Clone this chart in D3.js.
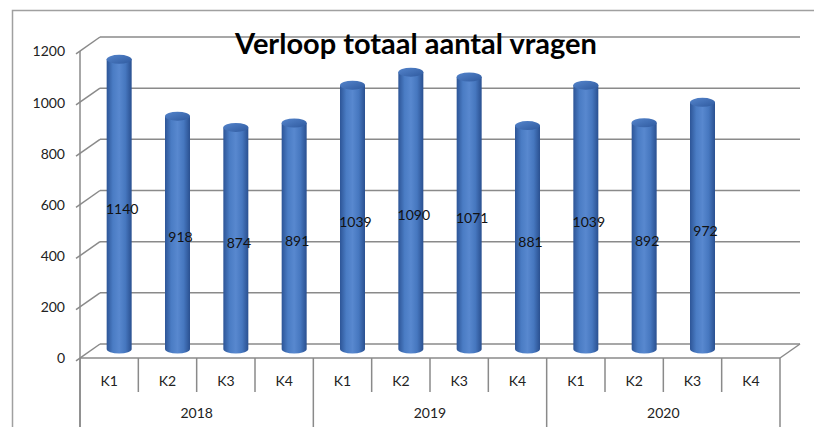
<!DOCTYPE html>
<html><head><meta charset="utf-8">
<script src="https://cdn.jsdelivr.net/npm/d3@7"></script>
<style>body{margin:0;background:#fff}svg{display:block}text{font-family:Lato,"Open Sans",sans-serif}</style>
</head><body>
<script>
const title = "Verloop totaal aantal vragen";
const years = ["2018", "2019", "2020"];
const quarters = ["K1", "K2", "K3", "K4"];
const values = [1140, 918, 874, 891, 1039, 1090, 1071, 881, 1039, 892, 972, null];
const yTicks = [0, 200, 400, 600, 800, 1000, 1200];

const W = 814, H = 427;
const svg = d3.select("body").append("svg").attr("width", W).attr("height", H);
const cats = d3.range(years.length * quarters.length);
const x = d3.scaleBand().domain(cats).range([80, 780]).paddingInner(0).paddingOuter(0);
const y = d3.scaleLinear().domain([0, 1200]).range([358, 51]);
const DX = 20, DY = -14;
const grid = "#8a8a8a";

const defs = svg.append("defs");
const g1 = defs.append("linearGradient").attr("id", "cyl").attr("x1", "0").attr("x2", "1").attr("y1", "0").attr("y2", "0");
[[0, "#2d5597"], [0.25, "#4a7cc4"], [0.5, "#5888cf"], [0.75, "#4677bf"], [1, "#2a5090"]].forEach(([o, c]) =>
  g1.append("stop").attr("offset", o).attr("stop-color", c));
const g2 = defs.append("linearGradient").attr("id", "topg").attr("x1", "0").attr("x2", "1").attr("y1", "0").attr("y2", "1");
[[0, "#5585cc"], [1, "#2f5a9f"]].forEach(([o, c]) => g2.append("stop").attr("offset", o).attr("stop-color", c));

// outer border
svg.append("rect").attr("x", 12.5).attr("y", 10.5).attr("width", 820).attr("height", 440)
  .attr("fill", "none").attr("stroke", "#a0a0a0").attr("stroke-width", 1.5);

// back wall gridlines and left wall diagonals
yTicks.forEach(t => {
  svg.append("line").attr("x1", 80 + DX).attr("x2", 780 + DX).attr("y1", y(t) + DY).attr("y2", y(t) + DY)
    .attr("stroke", grid).attr("stroke-width", 1.5);
  svg.append("line").attr("x1", 76).attr("x2", 80 + DX).attr("y1", y(t) + 2.8).attr("y2", y(t) + DY)
    .attr("stroke", grid).attr("stroke-width", 1.5);
});
// floor
svg.append("line").attr("x1", 80).attr("x2", 780).attr("y1", y(0)).attr("y2", y(0)).attr("stroke", grid).attr("stroke-width", 1.5);
svg.append("line").attr("x1", 780).attr("x2", 780 + DX).attr("y1", y(0)).attr("y2", y(0) + DY).attr("stroke", grid).attr("stroke-width", 1.5);
// front value axis
svg.append("line").attr("x1", 80).attr("x2", 80).attr("y1", y(1200)).attr("y2", H).attr("stroke", grid).attr("stroke-width", 1.5);

// y axis labels
const yAxis = d3.axisLeft(y).tickValues(yTicks).tickSize(0).tickPadding(15).tickFormat(d3.format("d"));
const ya = svg.append("g").attr("transform", "translate(80,0)").call(yAxis);
ya.select(".domain").remove();
ya.selectAll("text").attr("font-family", "Lato").attr("font-size", 14).attr("fill", "#222").attr("dy", "0.35em");

// category dividers
cats.concat([cats.length]).forEach(i => {
  const xx = i < cats.length ? x(i) : 780;
  const isYear = i % quarters.length === 0;
  svg.append("line").attr("x1", xx).attr("x2", xx).attr("y1", y(0)).attr("y2", isYear ? H : 392)
    .attr("stroke", grid).attr("stroke-width", 1.5);
});
cats.forEach(i => {
  svg.append("text").attr("x", x(i) + x.bandwidth() / 2).attr("y", 381).attr("dy", "0.35em")
    .attr("text-anchor", "middle").attr("font-size", 14).attr("fill", "#222").text(quarters[i % quarters.length]);
});
years.forEach((yr, j) => {
  const a = x(j * quarters.length), b = j * quarters.length + quarters.length < cats.length ? x(j * quarters.length + quarters.length) : 780;
  svg.append("text").attr("x", (a + b) / 2).attr("y", 413).attr("dy", "0.35em")
    .attr("text-anchor", "middle").attr("font-size", 14).attr("fill", "#222").text(yr);
});

// bars (cylinders at mid depth)
const rx = 12.5, ry = 4.5;
const bars = svg.append("g");
values.forEach((v, i) => {
  if (v == null) return;
  const cx = x(i) + x.bandwidth() / 2 + DX / 2;
  const yb = y(0) + DY / 2 - 2, yt = y(v) + DY / 2;
  const g = bars.append("g");
  g.append("path")
    .attr("d", `M${cx - rx},${yt} L${cx - rx},${yb} A${rx},${ry} 0 0 0 ${cx + rx},${yb} L${cx + rx},${yt} Z`)
    .attr("fill", "url(#cyl)");
  g.append("ellipse").attr("cx", cx).attr("cy", yt).attr("rx", rx).attr("ry", ry).attr("fill", "url(#topg)");
});
// labels
values.forEach((v, i) => {
  if (v == null) return;
  const cx = x(i) + x.bandwidth() / 2 + DX / 2 + 3;
  svg.append("text").attr("x", cx).attr("y", y(v / 2) + DY / 2 + 4).attr("dy", "0.35em")
    .attr("text-anchor", "middle").attr("font-size", 14).attr("fill", "#111").text(v);
});

// title
svg.append("text").attr("x", 416).attr("y", 54).attr("text-anchor", "middle")
  .attr("font-size", 29).attr("font-weight", "bold").attr("fill", "#000").text(title);
</script>
</body></html>
